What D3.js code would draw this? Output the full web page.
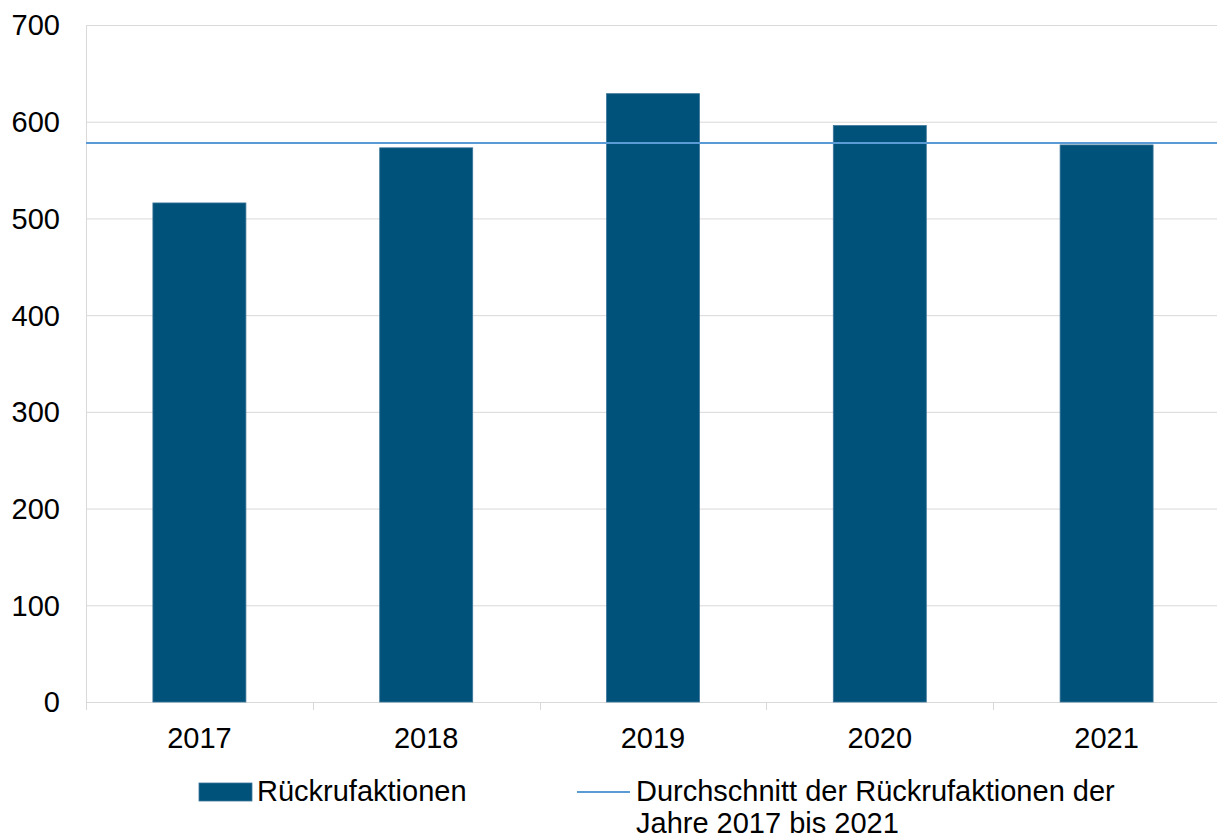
<!DOCTYPE html>
<html>
<head>
<meta charset="utf-8">
<script src="https://cdn.jsdelivr.net/npm/d3@7"></script>
<style>
body { margin: 0; background: #fff; }
svg text { font-family: "Liberation Sans", Arial, sans-serif; fill: #000; }
</style>
</head>
<body>
<svg width="1217" height="838"></svg>
<script>
var years = ["2017", "2018", "2019", "2020", "2021"];
var recalls = [516, 573, 629, 596, 576];
var average = 578;
var yTicks = [0, 100, 200, 300, 400, 500, 600, 700];
var legendLabels = ["Rückrufaktionen", "Durchschnitt der Rückrufaktionen der", "Jahre 2017 bis 2021"];

var svg = d3.select("svg"),
    width = +svg.attr("width"),
    height = +svg.attr("height");

var margin = {top: 25, right: 0, bottom: 136, left: 86};
var bandEnd = 1220; // category bands run slightly past the visible edge

var x = d3.scaleBand()
    .domain(years)
    .range([margin.left, bandEnd])
    .paddingInner(0.59)
    .paddingOuter(0.295);

var xOuter = d3.scaleBand()
    .domain(years)
    .range([margin.left, bandEnd]);

var y = d3.scaleLinear()
    .domain([0, 700])
    .range([height - margin.bottom, margin.top]);

// grid
svg.append("g")
    .selectAll("line")
    .data(yTicks)
    .enter().append("line")
    .attr("x1", margin.left)
    .attr("x2", width - margin.right)
    .attr("y1", function(d) { return y(d) + 0.5; })
    .attr("y2", function(d) { return y(d) + 0.5; })
    .attr("stroke", "#d9d9d9")
    .attr("stroke-width", 1);

// y axis line
svg.append("line")
    .attr("x1", margin.left + 0.5).attr("x2", margin.left + 0.5)
    .attr("y1", y(700)).attr("y2", y(0) + 8)
    .attr("stroke", "#d9d9d9");

// x ticks at category boundaries
svg.append("g")
    .selectAll("line")
    .data(years.slice(1))
    .enter().append("line")
    .attr("x1", function(d) { return Math.round(xOuter(d)) + 0.5; })
    .attr("x2", function(d) { return Math.round(xOuter(d)) + 0.5; })
    .attr("y1", y(0))
    .attr("y2", y(0) + 8)
    .attr("stroke", "#d9d9d9");

// y labels
svg.append("g")
    .selectAll("text")
    .data(yTicks)
    .enter().append("text")
    .attr("x", 60)
    .attr("y", function(d) { return y(d); })
    .attr("dy", "0.36em")
    .attr("text-anchor", "end")
    .style("font-size", "29px")
    .text(function(d) { return d; });

// x labels
svg.append("g")
    .selectAll("text")
    .data(years)
    .enter().append("text")
    .attr("x", function(d) { return xOuter(d) + xOuter.bandwidth() / 2; })
    .attr("y", 748)
    .attr("text-anchor", "middle")
    .style("font-size", "29px")
    .text(function(d) { return d; });

// bars
svg.append("g")
    .selectAll("rect")
    .data(recalls)
    .enter().append("rect")
    .attr("x", function(d, i) { return x(years[i]); })
    .attr("y", function(d) { return y(d); })
    .attr("width", x.bandwidth())
    .attr("height", function(d) { return y(0) - y(d); })
    .attr("fill", "#01527a")
    .attr("stroke", "#3b7499")
    .attr("stroke-width", 0.8);

// average line
svg.append("line")
    .attr("x1", margin.left)
    .attr("x2", width - margin.right)
    .attr("y1", y(average))
    .attr("y2", y(average))
    .attr("stroke", "#5b9bd5")
    .attr("stroke-width", 2);

// legend
var legend = svg.append("g");

legend.append("rect")
    .attr("x", 199).attr("y", 783)
    .attr("width", 53).attr("height", 18)
    .attr("fill", "#01527a")
    .attr("stroke", "#3b7499")
    .attr("stroke-width", 0.8);

legend.append("text")
    .attr("x", 257).attr("y", 801)
    .style("font-size", "29px")
    .text(legendLabels[0]);

legend.append("line")
    .attr("x1", 577).attr("x2", 630)
    .attr("y1", 792).attr("y2", 792)
    .attr("stroke", "#5b9bd5")
    .attr("stroke-width", 2);

legend.append("text")
    .attr("x", 636).attr("y", 801)
    .style("font-size", "29px")
    .text(legendLabels[1]);

legend.append("text")
    .attr("x", 636).attr("y", 833)
    .style("font-size", "29px")
    .text(legendLabels[2]);
</script>
</body>
</html>
